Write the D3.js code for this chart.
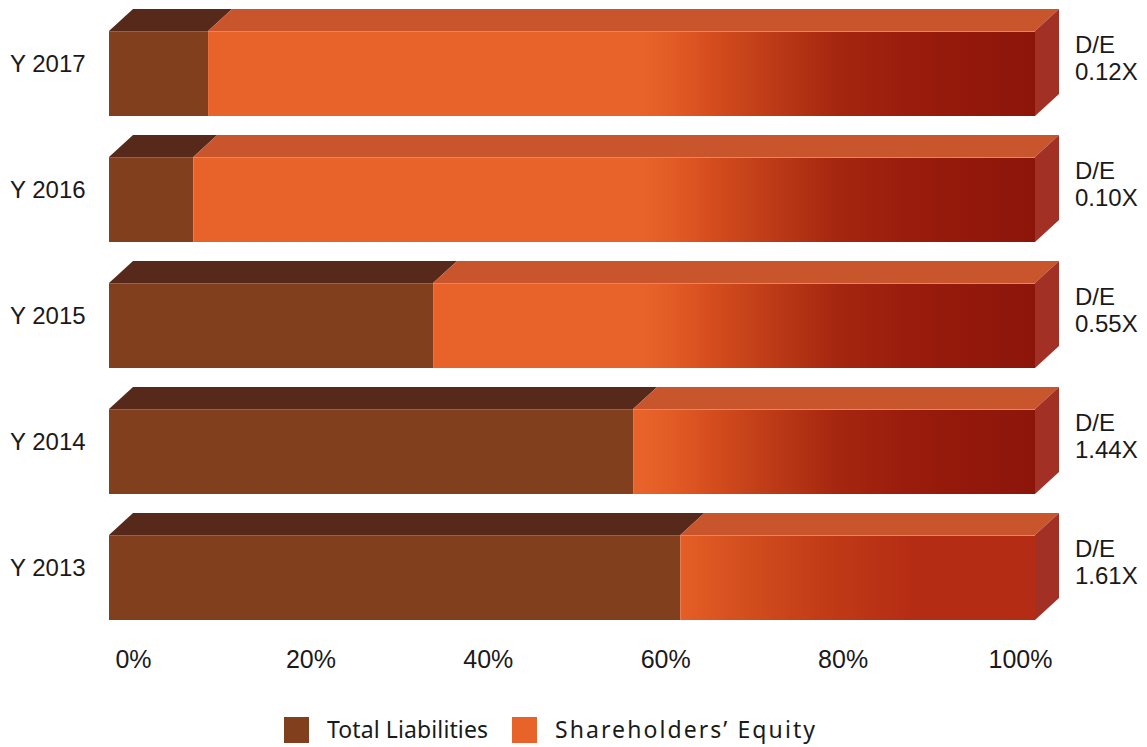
<!DOCTYPE html>
<html>
<head>
<meta charset="utf-8">
<script src="https://cdn.jsdelivr.net/npm/d3@7"></script>
<style>
    html, body { margin: 0; padding: 0; background: #fff; }
    svg { display: block; }
    .cat-label, .de-label { font-family: "Liberation Sans", Arial, sans-serif; font-size: 24px; fill: #1a1a1a; }
    .tick text { font-family: "Liberation Sans", Arial, sans-serif; font-size: 25px; fill: #1a1a1a; }
    .legend-text { font-family: "Noto Sans", sans-serif; font-size: 23px; fill: #1a1a1a; }
</style>
</head>
<body>
<svg id="chart"></svg>
<script>
// data (share of total capital, %)
const years = ['Y 2017', 'Y 2016', 'Y 2015', 'Y 2014', 'Y 2013'];
const liabilitiesPct = [10.7, 9.1, 35.0, 56.6, 61.7];
const equityPct = [89.3, 90.9, 65.0, 43.4, 38.3];
const deRatios = ['0.12X', '0.10X', '0.55X', '1.44X', '1.61X'];
const tickValues = [0, 20, 40, 60, 80, 100];
const seriesNames = ['Total Liabilities', 'Shareholders\u2019 Equity'];

const W = 1147, H = 747;
const svg = d3.select('#chart').attr('width', W).attr('height', H);

const depthX = 24, depthY = 22;

const rows = years.map((y, i) => ({ year: y, liab: liabilitiesPct[i], equity: equityPct[i], de: deRatios[i] }));
const stack = d3.stack().keys(['liab', 'equity']);
const layers = stack(rows);

const x = d3.scaleLinear().domain([0, 100]).range([109, 1035]);
// tick labels sit on the projected floor of the 3D plot, so they use their own spread
const xAxisScale = d3.scaleLinear().domain([0, 100]).range([133, 1020]);
const y = d3.scaleBand().domain(years).range([-0.5, 629.5])
    .paddingInner(19 / 126).paddingOuter(19 / 252);

const colors = {
    liabFront: '#823F1E', liabTop: '#57291A',
    eqFront: '#E8632A', eqTop: '#C8552C',
    side: '#A33024'
};

// gradients for the equity front faces
const defs = svg.append('defs');
const g1 = defs.append('linearGradient').attr('id', 'eqGrad')
    .attr('gradientUnits', 'userSpaceOnUse')
    .attr('x1', x(57.5)).attr('x2', x(100)).attr('y1', 0).attr('y2', 0);
[[0, '#E8632A'], [0.08, '#E25B25'], [0.17, '#D64E1E'], [0.32, '#BE3C17'],
 [0.5, '#A5260F'], [0.67, '#9A1C0C'], [1, '#8C150A']].forEach(s => {
    g1.append('stop').attr('offset', s[0]).attr('stop-color', s[1]);
});
const g2 = defs.append('linearGradient').attr('id', 'eqGrad13')
    .attr('gradientUnits', 'userSpaceOnUse')
    .attr('x1', x(61.7)).attr('x2', x(86.8)).attr('y1', 0).attr('y2', 0);
[[0, '#E55E26'], [0.3, '#D14D1D'], [0.6, '#C23C17'], [1, '#B52C14']].forEach(s => {
    g2.append('stop').attr('offset', s[0]).attr('stop-color', s[1]);
});

const plot = svg.append('g');

layers.forEach(layer => {
    const isLiab = layer.key === 'liab';
    const grp = plot.append('g').attr('class', 'series-' + layer.key);

    // front face
    grp.selectAll('.front')
        .data(layer)
        .enter()
        .append('rect')
        .attr('class', 'front')
        .attr('x', d => x(d[0]))
        .attr('y', d => y(d.data.year) + depthY)
        .attr('width', d => x(d[1]) - x(d[0]))
        .attr('height', y.bandwidth() - depthY)
        .attr('fill', d => isLiab ? colors.liabFront : (d.data.year === 'Y 2013' ? 'url(#eqGrad13)' : 'url(#eqGrad)'));

    // top face
    grp.selectAll('.top')
        .data(layer)
        .enter()
        .append('path')
        .attr('class', 'top')
        .attr('d', d => {
            const x0 = x(d[0]), x1 = x(d[1]), yt = y(d.data.year) + depthY;
            return `M${x0},${yt}L${x0 + depthX},${yt - depthY}L${x1 + depthX},${yt - depthY}L${x1},${yt}Z`;
        })
        .attr('fill', isLiab ? colors.liabTop : colors.eqTop);

    // light edge along the front top
    grp.selectAll('.edge')
        .data(layer)
        .enter()
        .append('line')
        .attr('class', 'edge')
        .attr('x1', d => x(d[0]))
        .attr('x2', d => x(d[1]))
        .attr('y1', d => y(d.data.year) + depthY + 0.5)
        .attr('y2', d => y(d.data.year) + depthY + 0.5)
        .attr('stroke', isLiab ? '#9A5F45' : '#EE8458')
        .attr('stroke-width', 1);

    // right side face only on the last segment
    if (!isLiab) {
        grp.selectAll('.side')
            .data(layer)
            .enter()
            .append('path')
            .attr('class', 'side')
            .attr('d', d => {
                const xr = x(d[1]), yt = y(d.data.year) + depthY, yb = y(d.data.year) + y.bandwidth();
                return `M${xr},${yt}L${xr + depthX},${yt - depthY}L${xr + depthX},${yb - depthY}L${xr},${yb}Z`;
            })
            .attr('fill', colors.side);
    }
});

// category labels
svg.selectAll('.cat-label')
    .data(rows)
    .enter()
    .append('text')
    .attr('class', 'cat-label')
    .attr('x', 10)
    .attr('y', d => y(d.year) + y.bandwidth() / 2 + 9)
    .text(d => d.year);

// D/E labels on the right
const deG = svg.selectAll('.de-label')
    .data(rows)
    .enter()
    .append('text')
    .attr('class', 'de-label')
    .attr('x', 1075)
    .attr('y', d => y(d.year) + y.bandwidth() / 2 - 10);
deG.append('tspan').attr('x', 1075).text('D/E');
deG.append('tspan').attr('x', 1075).attr('dy', 27).text(d => d.de);

// x axis labels
const axis = svg.append('g')
    .attr('transform', 'translate(0,668)')
    .call(d3.axisBottom(xAxisScale).tickValues(tickValues).tickFormat(d => d + '%').tickSize(0));
axis.select('.domain').remove();
axis.selectAll('.tick text').attr('y', 0).attr('dy', 0)
    .attr('font-family', null).attr('font-size', null).attr('fill', null);

// legend
const legendX = d3.scaleOrdinal().domain(seriesNames).range([284, 512]);
const legendColor = d3.scaleOrdinal().domain(seriesNames).range([colors.liabFront, colors.eqFront]);
const legendTextLen = d3.scaleOrdinal().domain(seriesNames).range([161, 260]);
const legend = svg.append('g').attr('class', 'legend');
const items = legend.selectAll('.item')
    .data(seriesNames)
    .enter()
    .append('g')
    .attr('class', 'item')
    .attr('transform', d => `translate(${legendX(d)},717)`);
items.append('rect').attr('width', 25).attr('height', 26).attr('fill', d => legendColor(d));
items.append('text')
    .attr('class', 'legend-text')
    .attr('x', 43)
    .attr('y', 21)
    .attr('textLength', d => legendTextLen(d))
    .attr('lengthAdjust', 'spacing')
    .text(d => d);
</script>
</body>
</html>
